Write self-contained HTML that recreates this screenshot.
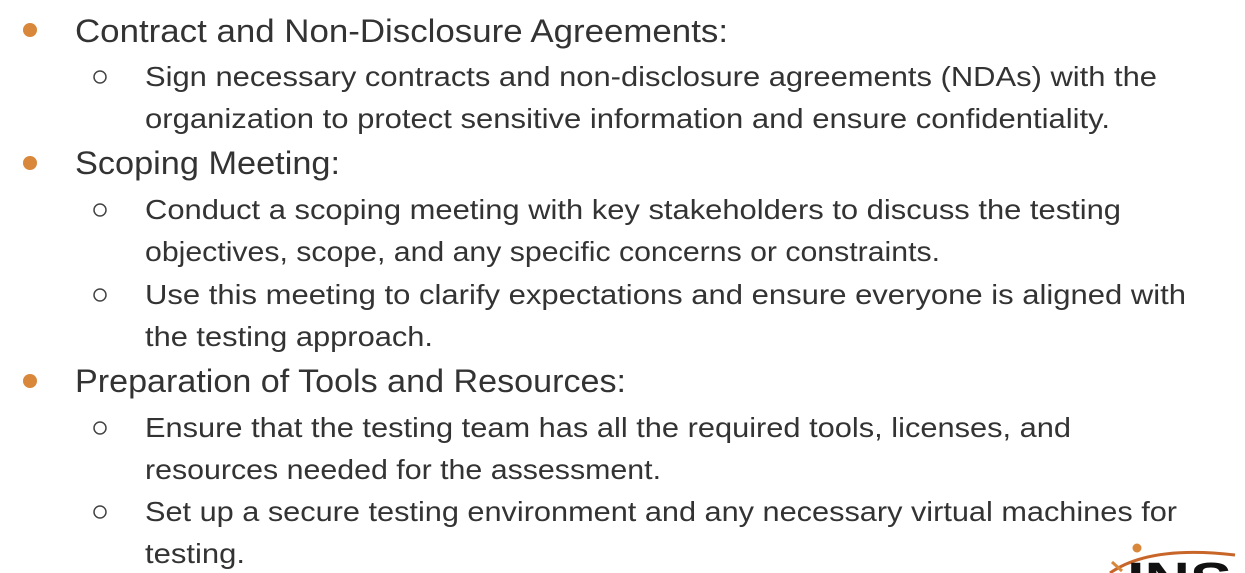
<!DOCTYPE html>
<html><head><meta charset="utf-8"><style>
html,body{margin:0;padding:0;background:#fff;width:1245px;height:573px;overflow:hidden}
text{font-family:"Liberation Sans",sans-serif;fill:#333}
</style></head><body>
<svg width="1245" height="573" viewBox="0 0 1245 573">
<defs><clipPath id="frame"><rect x="0" y="0" width="1245" height="573"/></clipPath></defs>
<g>
<circle cx="30" cy="30" r="7" fill="#d8873b"/>
<text x="75" y="42" font-size="32" textLength="653" lengthAdjust="spacingAndGlyphs">Contract and Non-Disclosure Agreements:</text>
</g>
<g>
<circle cx="100" cy="77" r="6" fill="none" stroke="#444" stroke-width="1.5"/>
<text x="145" y="86" font-size="28" textLength="1012" lengthAdjust="spacingAndGlyphs">Sign necessary contracts and non-disclosure agreements (NDAs) with the</text>
<text x="145" y="128" font-size="28" textLength="965" lengthAdjust="spacingAndGlyphs">organization to protect sensitive information and ensure confidentiality.</text>
</g>
<g>
<circle cx="30" cy="163" r="7" fill="#d8873b"/>
<text x="75" y="174" font-size="32" textLength="265" lengthAdjust="spacingAndGlyphs">Scoping Meeting:</text>
</g>
<g>
<circle cx="100" cy="210" r="6" fill="none" stroke="#444" stroke-width="1.5"/>
<text x="145" y="219" font-size="28" textLength="976" lengthAdjust="spacingAndGlyphs">Conduct a scoping meeting with key stakeholders to discuss the testing</text>
<text x="145" y="261" font-size="28" textLength="795" lengthAdjust="spacingAndGlyphs">objectives, scope, and any specific concerns or constraints.</text>
</g>
<g>
<circle cx="100" cy="295" r="6" fill="none" stroke="#444" stroke-width="1.5"/>
<text x="145" y="304" font-size="28" textLength="1041" lengthAdjust="spacingAndGlyphs">Use this meeting to clarify expectations and ensure everyone is aligned with</text>
<text x="145" y="346" font-size="28" textLength="288" lengthAdjust="spacingAndGlyphs">the testing approach.</text>
</g>
<g>
<circle cx="30" cy="381" r="7" fill="#d8873b"/>
<text x="75" y="392" font-size="32" textLength="551" lengthAdjust="spacingAndGlyphs">Preparation of Tools and Resources:</text>
</g>
<g>
<circle cx="100" cy="428" r="6" fill="none" stroke="#444" stroke-width="1.5"/>
<text x="145" y="437" font-size="28" textLength="926" lengthAdjust="spacingAndGlyphs">Ensure that the testing team has all the required tools, licenses, and</text>
<text x="145" y="479" font-size="28" textLength="516" lengthAdjust="spacingAndGlyphs">resources needed for the assessment.</text>
</g>
<g>
<circle cx="100" cy="512" r="6" fill="none" stroke="#444" stroke-width="1.5"/>
<text x="145" y="521" font-size="28" textLength="1032" lengthAdjust="spacingAndGlyphs">Set up a secure testing environment and any necessary virtual machines for</text>
<text x="145" y="563" font-size="28" textLength="100" lengthAdjust="spacingAndGlyphs">testing.</text>
</g>
<g clip-path="url(#frame)">
<path d="M1110 573 Q1150 545 1235 555" fill="none" stroke="#c8662a" stroke-width="3"/>
<path d="M1112 562 L1122 571" stroke="#d8873b" stroke-width="3"/>
<circle cx="1137" cy="548" r="4.5" fill="#d8873b"/>
<text x="1127" y="596" font-size="48" font-weight="bold" textLength="105" lengthAdjust="spacingAndGlyphs" style="fill:#111">INS</text>
</g>
</svg>
</body></html>
